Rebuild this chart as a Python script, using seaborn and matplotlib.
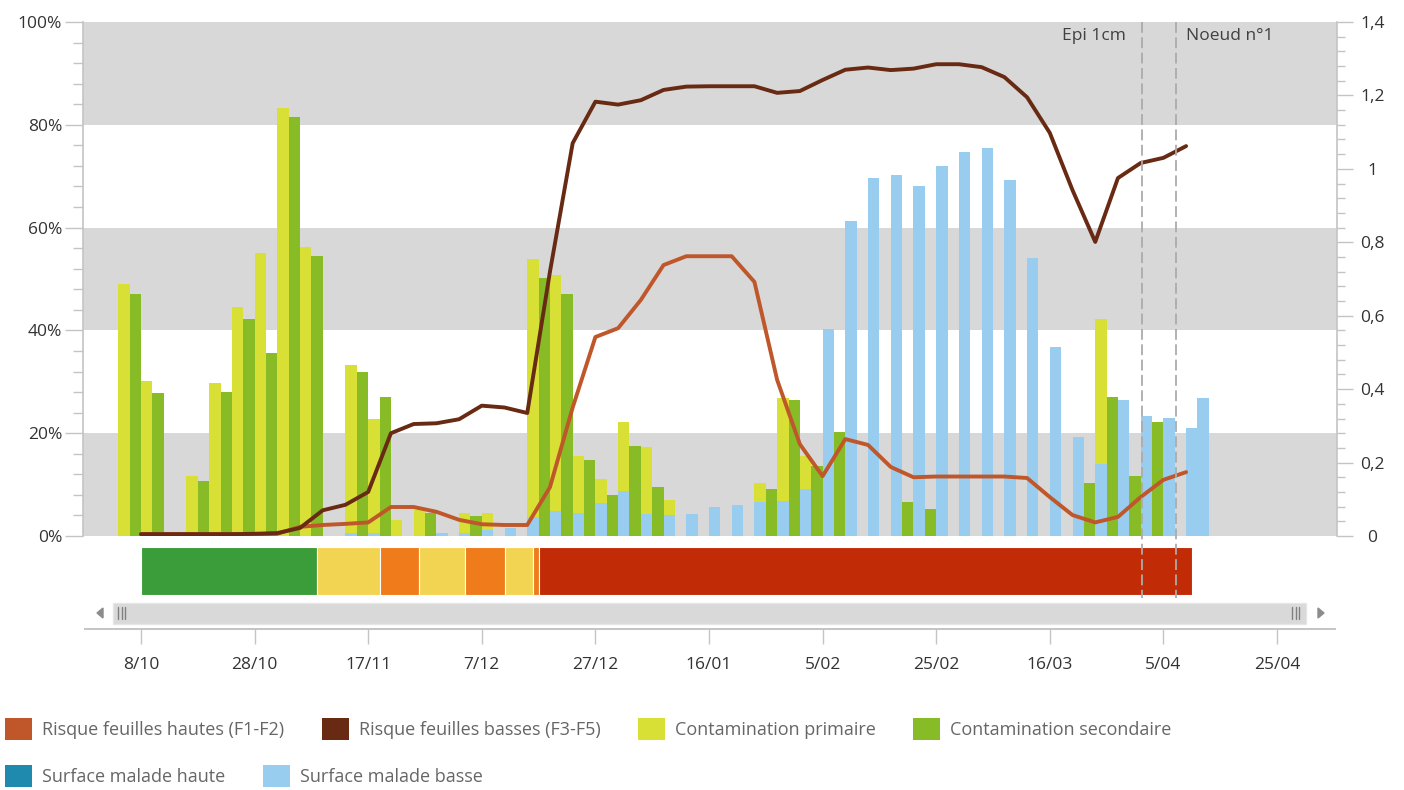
import numpy as np
import pandas as pd
import matplotlib
matplotlib.use("Agg")
import matplotlib.pyplot as plt
import matplotlib.transforms as mtransforms
from matplotlib.patches import Patch, Rectangle, Polygon
from matplotlib.ticker import MultipleLocator, FuncFormatter
import seaborn as sns

# ---------------------------------------------------------------- data
# x positions are expressed in days after 8/10
tick_days = [0, 20, 40, 60, 80, 100, 120, 140, 160, 180, 200]
tick_labels = ["8/10", "28/10", "17/11", "7/12", "27/12", "16/01",
               "5/02", "25/02", "16/03", "5/04", "25/04"]

bar_days = list(range(-3, 188, 2))          # one bar slot every 2 days

primaire = [
    49.0, 0, 30.2, 0, 0, 0, 11.7, 0, 29.8, 0,
    44.6, 0, 55.0, 0, 83.3, 0, 56.3, 0, 0, 0,
    33.3, 0, 22.7, 0, 3.2, 0, 5.1, 0, 0, 0,
    4.5, 0, 4.5, 0, 0, 0, 53.8, 0, 50.8, 0,
    15.6, 0, 11.1, 0, 22.1, 0, 17.3, 0, 7.0, 0,
    0, 0, 0, 0, 0, 0, 10.4, 0, 26.8, 0,
    15.6, 0, 0, 0, 0, 0, 0, 0, 0, 0,
    0, 0, 0, 0, 0, 0, 0, 0, 0, 0,
    0, 0, 0, 0, 0, 0, 42.2, 0, 0, 0,
    0, 0, 0, 0, 0, 0,
]
secondaire = [
    0, 47.0, 0, 27.9, 0, 0, 0, 10.7, 0, 28.1,
    0, 42.2, 0, 35.7, 0, 81.6, 0, 54.5, 0, 0,
    0, 31.9, 0, 27.1, 0, 0, 0, 4.4, 0, 0,
    0, 3.9, 0, 0, 0, 0, 0, 50.1, 0, 47.0,
    0, 14.8, 0, 8.0, 0, 17.6, 0, 9.5, 0, 0,
    0, 0, 0, 0, 0, 0, 0, 9.1, 0, 26.5,
    0, 13.6, 0, 20.3, 0, 0, 0, 0, 0, 6.6,
    0, 5.2, 0, 0, 0, 0, 0, 0, 0, 0,
    0, 0, 0, 0, 0, 10.4, 0, 27.1, 0, 11.7,
    0, 22.1, 0, 0, 0, 0,
]
surface_basse = [
    0, 0, 0, 0, 0, 0, 0, 0, 0, 0,
    0, 0, 0, 0, 0, 0, 0, 0, 0, 0,
    0.5, 0, 0.5, 0, 0, 0, 0, 0, 0.6, 0,
    0.6, 0, 1.2, 0, 1.5, 0, 3.7, 0, 4.9, 0,
    4.5, 0, 6.4, 0, 8.8, 0, 4.2, 0, 4.0, 0,
    4.2, 0, 5.6, 0, 6.0, 0, 6.6, 0, 6.9, 0,
    9.1, 0, 40.2, 0, 61.3, 0, 69.6, 0, 70.2, 0,
    68.0, 0, 72.0, 0, 74.8, 0, 75.4, 0, 69.3, 0,
    54.1, 0, 36.7, 0, 19.2, 0, 14.1, 0, 26.5, 0,
    23.3, 0, 23.0, 0, 21.0, 26.8,
]

line_days = list(range(0, 185, 4))          # one point every 4 days
risque_hautes = [
    0.005, 0.005, 0.005, 0.005, 0.005, 0.005, 0.006, 0.025, 0.030, 0.033,
    0.037, 0.079, 0.079, 0.066, 0.044, 0.032, 0.030, 0.030, 0.133, 0.350,
    0.542, 0.566, 0.643, 0.738, 0.762, 0.762, 0.762, 0.692, 0.425, 0.250,
    0.163, 0.264, 0.248, 0.188, 0.160, 0.162, 0.162, 0.162, 0.162, 0.158,
    0.106, 0.057, 0.037, 0.052, 0.106, 0.153, 0.174,
]
risque_basses = [
    0.005, 0.005, 0.005, 0.005, 0.005, 0.006, 0.008, 0.022, 0.070, 0.085,
    0.120, 0.280, 0.305, 0.307, 0.318, 0.355, 0.350, 0.335, 0.720, 1.070,
    1.183, 1.175, 1.187, 1.215, 1.224, 1.225, 1.225, 1.225, 1.207, 1.212,
    1.242, 1.270, 1.276, 1.269, 1.273, 1.285, 1.285, 1.277, 1.250, 1.195,
    1.098, 0.942, 0.801, 0.975, 1.016, 1.030, 1.062,
]

risk_bounds = [0, 31, 42, 49, 57, 64, 69, 70, 185]
risk_levels = ["faible", "moyen", "fort", "moyen", "fort", "moyen", "fort", "tres fort"]

stage_days = [176.2, 182.2]
stage_labels = ["Epi 1cm", "Noeud n°1"]

series_names = ["Risque feuilles hautes (F1-F2)", "Risque feuilles basses (F3-F5)",
                "Contamination primaire", "Contamination secondaire",
                "Surface malade haute", "Surface malade basse"]

# ---------------------------------------------------------------- style
C_HAUT = "#bf572a"
C_BAS = "#682a13"
C_PRIM = "#d8e036"
C_SEC = "#88bc26"
C_SHAUT = "#1f8aad"
C_SBAS = "#99cdef"
risk_colors = {"faible": "#3b9c3a", "moyen": "#f3d452", "fort": "#f07b1a", "tres fort": "#c12b06"}
GREY_BAND = "#d8d8d8"
AX_COL = "#c4c4c4"
TXT = "#333333"

sns.set_style("white")
plt.rcParams["font.family"] = ["Open Sans", "DejaVu Sans"]
FS = 12.5
FS_LEG = 13.0

W, H = 1404, 790
fig = plt.figure(figsize=(W / 100, H / 100), dpi=100)


def fx(px):
    return px / W


def fy(py):
    return 1 - py / H


PX_DAY0, PX_PER_DAY = 141.0, 5.68


def day_lim(px_left, px_right):
    return ((px_left - PX_DAY0) / PX_PER_DAY, (px_right - PX_DAY0) / PX_PER_DAY)


# decoration layer (scroll bar)
deco = fig.add_axes([0, 0, 1, 1])
deco.set_xlim(0, W)
deco.set_ylim(H, 0)
deco.axis("off")
deco.patch.set_visible(False)
deco.add_patch(Rectangle((113, 603), 1306 - 113, 21, facecolor="#d9d9d9", edgecolor="#e6e6e6", lw=1))
deco.add_patch(Polygon([[97, 613], [103, 608], [103, 618]], closed=True, color="#8c8c8c"))
deco.add_patch(Polygon([[1324, 613], [1318, 608], [1318, 618]], closed=True, color="#8c8c8c"))
for gx in (118, 121.5, 125, 1292, 1295.5, 1299):
    deco.plot([gx, gx], [607, 619], color="#808080", lw=1.0)

# ---------------------------------------------------------------- main axes
ax = fig.add_axes([fx(83), fy(536), (1337 - 83) / W, 514 / H])
ax.set_xlim(*day_lim(83, 1337))
ax.set_ylim(0, 100)
for lo in (0, 40, 80):
    ax.axhspan(lo, lo + 20, color=GREY_BAND, lw=0, zorder=0)

bars = pd.DataFrame({"day": bar_days, "prim": primaire, "sec": secondaire, "sbas": surface_basse})
ax.bar(bars["day"], bars["prim"], width=2.0, color=C_PRIM, lw=0, zorder=2)
ax.bar(bars["day"], bars["sec"], width=2.0, color=C_SEC, lw=0, zorder=2)
ax.bar(bars["day"], bars["sbas"], width=2.0, color=C_SBAS, lw=0, zorder=3)

ax.set_xticks([])
ax.yaxis.set_major_locator(MultipleLocator(20))
ax.yaxis.set_minor_locator(MultipleLocator(4))
ax.yaxis.set_major_formatter(FuncFormatter(lambda v, p: f"{v:.0f}%"))
ax.tick_params(axis="y", which="major", left=True, length=13, width=1, color=AX_COL,
               pad=2, labelsize=FS, labelcolor=TXT)
ax.tick_params(axis="y", which="minor", left=True, length=7, width=1, color=AX_COL)
for s in ("top", "bottom", "right"):
    ax.spines[s].set_visible(False)
ax.spines["left"].set_color(AX_COL)
ax.spines["left"].set_linewidth(1.2)

ax2 = ax.twinx()
ax2.set_ylim(0, 1.4)
lines = pd.DataFrame({"day": line_days, "haut": risque_hautes, "bas": risque_basses})
sns.lineplot(data=lines, x="day", y="haut", ax=ax2, color=C_HAUT, lw=2.8,
             solid_joinstyle="round", solid_capstyle="round")
sns.lineplot(data=lines, x="day", y="bas", ax=ax2, color=C_BAS, lw=2.8,
             solid_joinstyle="round", solid_capstyle="round")
ax2.set_xlim(*day_lim(83, 1337))
ax2.set_xlabel("")
ax2.set_ylabel("")
ax2.set_xticks([])
ax2.yaxis.set_major_locator(MultipleLocator(0.2))
ax2.yaxis.set_minor_locator(MultipleLocator(0.04))
ax2.yaxis.set_major_formatter(FuncFormatter(lambda v, p: f"{v:.1f}".rstrip("0").rstrip(".").replace(".", ",")))
ax2.tick_params(axis="y", which="major", right=True, length=11.5, width=1, color=AX_COL,
                pad=14, labelsize=FS, labelcolor=TXT)
ax2.tick_params(axis="y", which="minor", right=True, length=5.8, width=1, color=AX_COL)
for s in ("top", "bottom", "left"):
    ax2.spines[s].set_visible(False)
ax2.spines["right"].set_color(AX_COL)
ax2.spines["right"].set_linewidth(1.2)
plt.setp(ax2.get_yticklabels(), ha="center")

# ---------------------------------------------------------------- risk band
axb = fig.add_axes([fx(83), fy(595), (1337 - 83) / W, 48 / H])
axb.set_xlim(*day_lim(83, 1337))
axb.set_ylim(-0.5, 0.5)
starts = np.array(risk_bounds[:-1])
widths = np.diff(risk_bounds)
axb.barh(0, widths, left=starts, height=1.0, color=[risk_colors[l] for l in risk_levels],
         edgecolor="white", lw=0.8)
axb.axis("off")
axb.patch.set_visible(False)

# stage markers
blend = mtransforms.blended_transform_factory(axb.transData, fig.transFigure)
blend_ax = mtransforms.blended_transform_factory(ax.transData, ax.transAxes)
offsets = [-11.5, 7.5]
aligns = ["right", "left"]
for d, lab, off, ha in zip(stage_days, stage_labels, offsets, aligns):
    axb.plot([d, d], [fy(22), fy(598)], transform=blend, clip_on=False,
             color="#ababab", lw=1.3, ls=(0, (6, 2.5)), zorder=10)
    ax2.annotate(lab, xy=(d, 0.973), xycoords=blend_ax, xytext=(off, 0),
                 textcoords="offset points", ha=ha, va="center", fontsize=FS, color="#404040")

# ---------------------------------------------------------------- date axis
axd = fig.add_axes([fx(85), fy(629), (1335 - 85) / W, 0.0001])
axd.set_xlim(*day_lim(85, 1335))
axd.set_yticks([])
axd.set_xticks(tick_days)
axd.set_xticklabels(tick_labels)
axd.tick_params(axis="x", bottom=True, length=11, width=1, color=AX_COL, pad=9,
                labelsize=FS, labelcolor=TXT)
for s in ("top", "left", "right"):
    axd.spines[s].set_visible(False)
axd.spines["bottom"].set_color(AX_COL)
axd.spines["bottom"].set_linewidth(1.4)
axd.patch.set_visible(False)

# ---------------------------------------------------------------- legend
colors = [C_HAUT, C_BAS, C_PRIM, C_SEC, C_SHAUT, C_SBAS]
handles = [Patch(facecolor=c, edgecolor="none") for c in colors]
common = dict(loc="center left", frameon=False, fontsize=FS_LEG, handlelength=1.52, handleheight=1.52,
              handletextpad=0.55, columnspacing=2.05, borderpad=0, borderaxespad=0,
              labelcolor="#666666", bbox_transform=fig.transFigure)
fig.legend(handles[:4], series_names[:4], ncol=4, bbox_to_anchor=(fx(5), fy(729)), **common)
fig.legend(handles[4:], series_names[4:], ncol=2, bbox_to_anchor=(fx(5), fy(776)), **common)

fig.savefig("out.png", dpi=100)
